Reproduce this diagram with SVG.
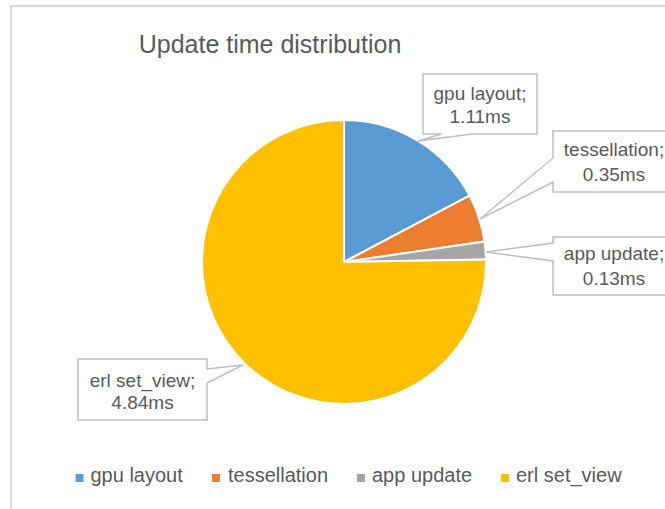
<svg xmlns="http://www.w3.org/2000/svg" width="665" height="509" viewBox="0 0 665 509">
<style>
  text { font-family: "Liberation Sans", Arial, sans-serif; fill: #595959; }
  .title { font-size: 25px; text-anchor: middle; }
  .lbl { font-size: 19px; text-anchor: middle; }
  .leg { font-size: 20px; }
  .slice { stroke: #ffffff; stroke-width: 2; stroke-linejoin: round; }
  .callout { fill: #ffffff; stroke: #bfbfbf; stroke-width: 1.5; }
</style>
<rect x="0" y="0" width="665" height="509" fill="#ffffff"/>
<rect x="11" y="6" width="700" height="600" fill="#ffffff" stroke="#d9d9d9" stroke-width="2"/>
<text class="title" x="270" y="53">Update time distribution</text>

<g id="pie">
  <g id="slice-gpu"><path class="slice" fill="#5B9BD5" d="M344,262 L344,120 A142,142 0 0,1 469.5,195.6 Z"/></g>
  <g id="slice-tess"><path class="slice" fill="#ED7D31" d="M344,262 L469.5,195.6 A142,142 0 0,1 484.5,241.6 Z"/></g>
  <g id="slice-app"><path class="slice" fill="#A5A5A5" d="M344,262 L484.5,241.6 A142,142 0 0,1 486,259.6 Z"/></g>
  <g id="slice-erl"><path class="slice" fill="#FFC000" d="M344,262 L486,259.6 A142,142 0 1,1 344,120 Z"/></g>
</g>

<g id="connectors">
  <path class="callout" d="M423,74 H537 V134 H472 L418,141 L442,134 H423 Z"/>
  <path class="callout" d="M553,131 H680 V192 H553 V182 L480,219 L553,158 Z"/>
  <path class="callout" d="M553,237 H680 V295 H553 V261 L486,252 L553,243 Z"/>
  <path class="callout" d="M78,359 H207 V369 L243,365 L207,383 V420 H78 Z"/>
</g>

<g id="label-gpu">
  <text class="lbl" x="480" y="100">gpu layout;</text>
  <text class="lbl" x="480" y="123">1.11ms</text>
</g>
<g id="label-tess">
  <text class="lbl" x="614" y="156">tessellation;</text>
  <text class="lbl" x="614" y="181">0.35ms</text>
</g>
<g id="label-app">
  <text class="lbl" x="614" y="260">app update;</text>
  <text class="lbl" x="614" y="285">0.13ms</text>
</g>
<g id="label-erl">
  <text class="lbl" x="142.5" y="387">erl set_view;</text>
  <text class="lbl" x="142.5" y="409">4.84ms</text>
</g>

<g id="legend">
  <rect x="75.5" y="474" width="8" height="8" fill="#5B9BD5"/>
  <text class="leg" x="90.5" y="481.5">gpu layout</text>
  <rect x="212" y="474" width="8" height="8" fill="#ED7D31"/>
  <text class="leg" x="228" y="481.5">tessellation</text>
  <rect x="357" y="474" width="8" height="8" fill="#A5A5A5"/>
  <text class="leg" x="372" y="481.5">app update</text>
  <rect x="501" y="474" width="8" height="8" fill="#FFC000"/>
  <text class="leg" x="516" y="481.5">erl set_view</text>
</g>
</svg>
